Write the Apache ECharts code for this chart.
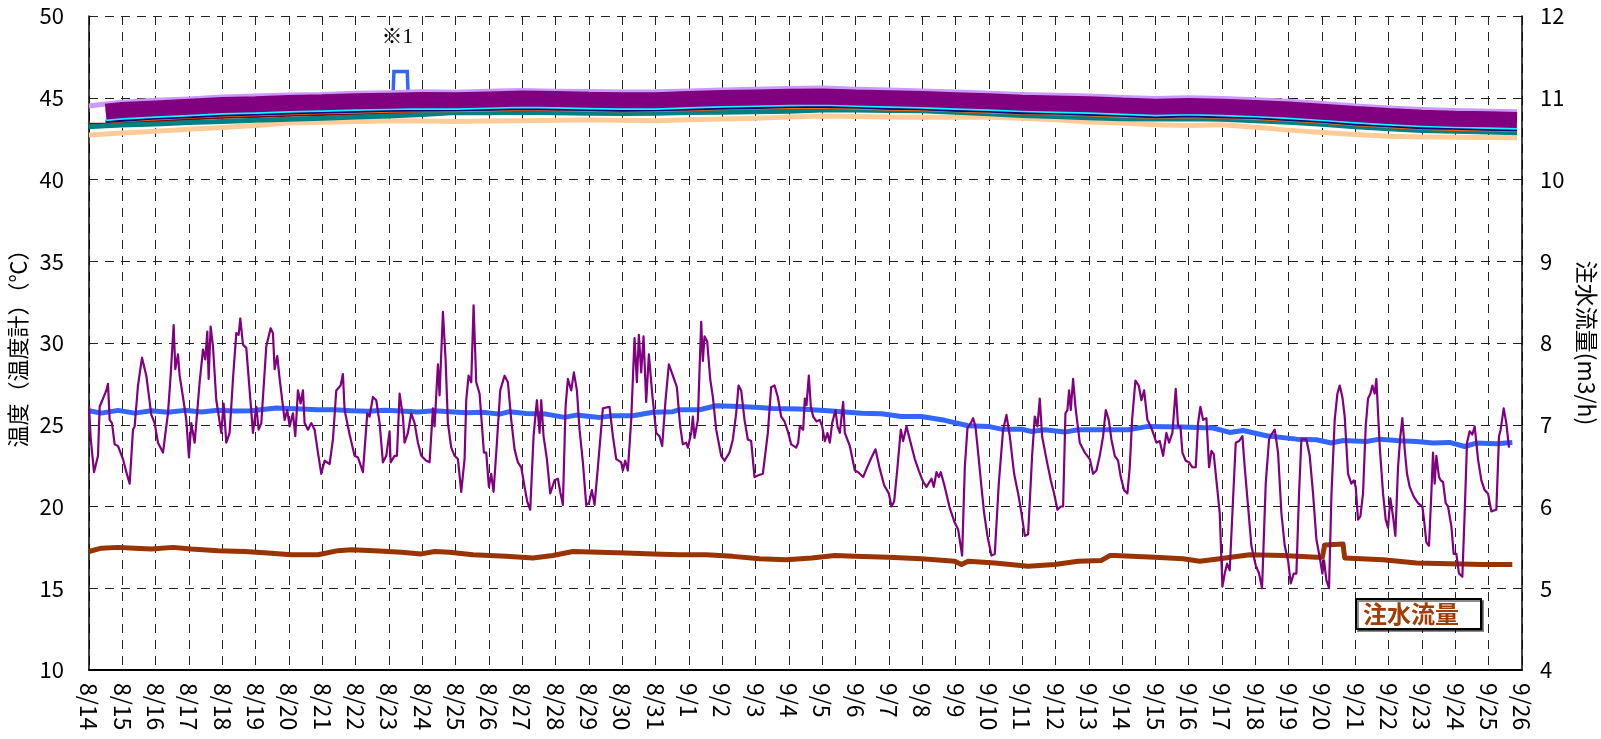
<!DOCTYPE html>
<html><head><meta charset="utf-8">
<script src="https://cdn.jsdelivr.net/npm/echarts@6/dist/echarts.min.js"></script>
<style>html,body{margin:0;padding:0;background:#fff}#c{width:1601px;height:739px}</style>
</head><body><div id="c"></div>
<script>
// ---- tick labels (x axis = days since 8/14) ----
const dateLabels = ['8/14','8/15','8/16','8/17','8/18','8/19','8/20','8/21','8/22','8/23','8/24','8/25','8/26','8/27','8/28','8/29','8/30','8/31',
  '9/1','9/2','9/3','9/4','9/5','9/6','9/7','9/8','9/9','9/10','9/11','9/12','9/13','9/14','9/15','9/16','9/17','9/18','9/19','9/20','9/21','9/22','9/23','9/24','9/25','9/26'];

// ---- upper thermometer bundle (day offsets shared) ----
const bundleDays = [0,0.5,1,2,3,4,5,6,7,8,9,10,11,12,13,14,15,16,17,18,19,20,21,22,23,24,25,26,27,28,29,30,31,32,33,34,35,36,37,38,39,40,41,42,42.85];
const purpleBand = [null,44.15,44.25,44.35,44.45,44.55,44.6,44.68,44.72,44.78,44.82,44.86,44.85,44.9,44.95,44.92,44.88,44.85,44.85,44.92,44.98,45.02,45.06,45.08,45.02,44.97,44.92,44.85,44.78,44.7,44.65,44.6,44.52,44.45,44.5,44.45,44.38,44.28,44.15,44.0,43.88,43.78,43.72,43.68,43.64];
const lavender = [44.5,44.62,44.72,44.84,44.93,45.04,45.1,45.17,45.2,45.28,45.3,45.36,45.33,45.4,45.45,45.4,45.38,45.35,45.36,45.42,45.48,45.52,45.56,45.6,45.52,45.47,45.42,45.35,45.27,45.2,45.15,45.1,45.02,44.95,45.0,44.95,44.88,44.78,44.65,44.5,44.38,44.28,44.22,44.18,44.14];
const cyan = [null,43.65,43.75,43.85,43.95,44.05,44.1,44.18,44.22,44.28,44.32,44.36,44.35,44.4,44.45,44.42,44.38,44.35,44.35,44.42,44.48,44.52,44.56,44.58,44.52,44.47,44.42,44.35,44.28,44.2,44.15,44.1,44.02,43.95,44.0,43.95,43.88,43.78,43.65,43.5,43.38,43.28,43.22,43.18,43.14];
const navy = [null,43.55,43.63,43.76,43.84,43.95,44.01,44.07,44.13,44.17,44.23,44.25,44.26,44.29,44.35,44.31,44.28,44.24,44.26,44.31,44.38,44.41,44.47,44.47,44.43,44.36,44.32,44.24,44.19,44.09,44.06,43.99,43.93,43.84,43.9,43.84,43.79,43.67,43.56,43.39,43.29,43.17,43.13,43.07,43.05];
const orange = [null,43.52,43.6,43.7,43.8,43.9,43.96,44.02,44.08,44.12,44.18,44.2,44.2,44.24,44.3,44.26,44.22,44.2,44.22,44.26,44.32,44.36,44.4,44.42,44.36,44.3,44.26,44.2,44.12,44.05,44.0,43.94,43.86,43.8,43.84,43.8,43.72,43.62,43.5,43.35,43.22,43.12,43.06,43.02,43.0];
const darkRed = [43.38,43.4,43.5,43.6,43.7,43.8,43.85,43.93,43.97,44.03,44.07,44.11,44.1,44.15,44.2,44.17,44.13,44.1,44.1,44.17,44.23,44.27,44.31,44.33,44.27,44.22,44.17,44.1,44.03,43.95,43.9,43.85,43.77,43.7,43.75,43.7,43.63,43.53,43.4,43.25,43.13,43.03,42.97,42.93,42.89];
const teal = [43.23,43.28,43.33,43.4,43.48,43.55,43.62,43.68,43.75,43.82,43.88,43.98,44.1,44.08,44.12,44.08,44.05,44.03,44.05,44.1,44.12,44.15,44.18,44.25,44.25,44.22,44.2,44.12,44.02,43.92,43.85,43.78,43.72,43.7,43.72,43.68,43.6,43.5,43.38,43.22,43.1,43.0,42.95,42.9,42.86];
const peach = [42.72,42.78,42.85,42.95,43.08,43.18,43.3,43.45,43.5,43.55,43.58,43.58,43.55,43.58,43.6,43.62,43.64,43.62,43.6,43.65,43.7,43.75,43.82,43.88,43.85,43.82,43.8,43.8,43.8,43.75,43.65,43.52,43.45,43.35,43.3,43.35,43.2,43.02,42.88,42.75,42.65,42.6,42.58,42.57,42.56];

// blue thermometer in the bundle with the ※1 spike
const spikeDays = [0.5,5,9.12,9.15,9.55,9.58,16,22,28,33,38,42.85];
const spikeTemp = [44.2,44.6,45.0,46.6,46.6,45.0,44.85,45.05,44.7,44.5,44.0,43.65];

// ---- lower blue temperature ----
const blueDays = [0,0.37,0.87,1.37,1.87,2.37,2.87,3.37,3.87,4.37,4.87,5.62,6.37,6.87,7.37,7.87,8.37,8.87,9.37,9.87,10.37,10.82,11.32,11.82,12.32,12.62,13.12,13.72,14.27,14.62,15.32,15.72,16.32,16.92,17.52,17.72,18.32,18.82,19.52,20.12,20.52,21.32,22.18,23.18,23.78,24.38,24.98,25.68,26.38,26.98,27.38,27.98,28.28,28.68,29.28,29.68,30.68,31.18,31.78,32.83,33.73,34.23,34.63,35.33,36.23,36.83,37.28,37.63,38.33,38.73,39.33,39.83,40.33,40.83,41.28,41.63,42.23,42.71];
const blueTemp = [25.86,25.71,25.88,25.71,25.86,25.76,25.88,25.78,25.88,25.84,25.86,26.02,25.96,25.92,25.92,25.86,25.82,25.88,25.84,25.78,25.86,25.8,25.73,25.76,25.65,25.8,25.69,25.65,25.45,25.59,25.45,25.55,25.55,25.76,25.8,25.92,25.92,26.16,26.12,26.06,26.0,25.96,25.86,25.71,25.67,25.51,25.51,25.27,24.94,24.9,24.73,24.73,24.59,24.69,24.55,24.69,24.69,24.69,24.9,24.86,24.8,24.53,24.65,24.33,24.12,24.08,23.88,24.04,23.98,24.12,24.02,23.98,23.88,23.92,23.67,23.88,23.84,23.92];

// ---- purple (fluctuating) temperature ----
const purplePts = [[0,26.2],[0.05,24.2],[0.15,22.1],[0.27,23.1],[0.32,26.1],[0.52,27.1],[0.57,27.5],[0.62,25.3],[0.69,25.1],[0.77,23.8],[0.87,23.7],[1.02,22.9],[1.12,22.1],[1.22,21.4],[1.32,24.7],[1.37,24.9],[1.47,27.4],[1.59,29.1],[1.72,28.0],[1.87,25.6],[1.97,25.1],[2.07,23.9],[2.22,23.3],[2.37,25.7],[2.45,28.0],[2.54,31.1],[2.59,28.4],[2.67,29.3],[2.72,28.0],[2.82,26.7],[2.92,25.3],[3.00,23.0],[3.07,25.1],[3.17,23.9],[3.32,27.6],[3.42,29.6],[3.49,29.0],[3.55,30.7],[3.59,27.8],[3.65,31.0],[3.72,29.8],[3.82,26.5],[3.97,24.5],[4.04,26.3],[4.12,23.9],[4.22,24.5],[4.32,27.8],[4.42,30.6],[4.49,30.5],[4.54,31.5],[4.62,29.9],[4.72,29.7],[4.82,27.1],[4.92,24.5],[5.02,26.1],[5.09,24.7],[5.17,25.1],[5.32,29.8],[5.45,30.9],[5.52,30.6],[5.57,28.4],[5.65,29.2],[5.72,27.8],[5.87,25.3],[5.95,25.9],[6.02,24.9],[6.12,25.7],[6.19,24.3],[6.27,27.1],[6.35,26.3],[6.42,27.1],[6.47,25.1],[6.57,24.7],[6.67,25.1],[6.77,24.7],[6.87,23.3],[6.97,22.0],[7.07,22.8],[7.22,22.6],[7.32,24.1],[7.42,27.1],[7.55,27.4],[7.62,28.1],[7.67,25.9],[7.82,24.4],[7.97,23.1],[8.07,23.0],[8.22,22.1],[8.35,25.7],[8.42,25.5],[8.52,26.7],[8.62,26.5],[8.72,25.1],[8.82,22.7],[8.92,23.1],[9.02,24.6],[9.05,22.7],[9.17,23.1],[9.24,23.1],[9.32,26.9],[9.42,25.5],[9.47,23.9],[9.57,24.5],[9.67,25.7],[9.77,25.1],[9.87,23.9],[9.97,23.1],[10.12,22.8],[10.22,22.7],[10.32,26.0],[10.37,24.9],[10.47,28.7],[10.52,26.8],[10.62,31.9],
[10.7,29.0],[10.77,25.1],[10.87,23.6],[10.97,23.1],[11.07,22.9],[11.17,20.9],[11.27,22.9],[11.32,26.5],[11.39,28.0],[11.47,27.6],[11.54,32.3],[11.62,27.6],[11.72,26.9],[11.80,24.7],[11.85,23.3],[11.92,23.3],[12.0,21.2],[12.07,22.0],[12.14,20.9],[12.24,23.9],[12.34,27.1],[12.47,28.0],[12.57,27.6],[12.67,25.3],[12.77,23.5],[12.87,22.7],[12.97,22.4],[13.07,21.2],[13.15,20.3],[13.24,19.8],[13.34,24.3],[13.44,26.5],[13.52,24.5],[13.57,26.5],[13.64,24.3],[13.74,22.9],[13.84,20.8],[13.97,21.6],[14.07,21.7],[14.14,20.9],[14.22,20.1],[14.30,26.1],[14.37,27.8],[14.47,27.1],[14.55,28.2],[14.64,27.1],[14.72,24.7],[14.82,22.7],[14.92,20.1],[15.00,20.2],[15.09,21.0],[15.17,20.1],[15.27,22.4],[15.42,26.0],[15.62,26.1],[15.72,24.3],[15.82,22.9],[15.97,22.7],[16.02,22.2],[16.09,22.8],[16.17,22.2],[16.27,25.3],[16.37,30.3],[16.44,27.6],[16.5,30.5],[16.57,28.2],[16.64,30.4],[16.72,26.4],[16.8,29.3],[16.9,26.9],[17.02,24.5],[17.12,24.3],[17.2,23.7],[17.3,26.5],[17.4,28.7],[17.52,28.0],[17.64,27.3],[17.74,24.9],[17.82,23.8],[17.92,23.9],[17.97,23.6],[18.07,24.5],[18.12,25.5],[18.17,24.2],[18.27,25.3],[18.37,31.3],[18.42,28.9],[18.47,30.4],[18.55,30.1],[18.64,27.8],[18.72,26.7],[18.82,24.7],[18.97,23.1],[19.07,22.8],[19.22,23.3],[19.32,24.1],[19.42,25.7],[19.49,27.4],[19.57,27.1],[19.67,25.3],[19.77,24.1],[19.87,24.0],[19.97,21.8],[20.07,21.9],[20.22,22.0],[20.37,24.5],[20.47,27.3],[20.57,27.4],[20.67,26.7],[20.77,25.5],[20.87,25.2],[20.97,24.6],[21.07,23.8],[21.22,23.6],
[21.28,23.9],[21.33,24.9],[21.43,24.7],[21.48,26.6],[21.53,26.2],[21.6,28.0],[21.66,26.1],[21.73,25.5],[21.83,25.2],[21.93,25.3],[22.0,24.9],[22.08,24.0],[22.16,24.5],[22.23,23.9],[22.3,25.1],[22.4,25.9],[22.46,24.9],[22.53,24.5],[22.63,26.4],[22.68,24.5],[22.83,23.7],[22.98,22.2],[23.08,22.1],[23.23,21.8],[23.33,22.3],[23.48,23.0],[23.6,23.5],[23.73,22.3],[23.86,21.3],[24.0,20.8],[24.08,20.0],[24.16,20.3],[24.26,22.4],[24.36,24.7],[24.43,24.0],[24.53,24.9],[24.63,24.1],[24.78,22.9],[24.9,22.2],[25.03,21.5],[25.13,21.2],[25.28,21.7],[25.35,21.2],[25.43,22.1],[25.5,21.8],[25.56,22.1],[25.68,21.2],[25.83,19.9],[25.98,19.0],[26.08,18.6],[26.2,17.0],[26.28,22.4],[26.36,24.8],[26.46,25.1],[26.53,25.4],[26.6,24.9],[26.68,23.3],[26.78,21.2],[26.86,19.6],[26.96,18.2],[27.08,17.0],[27.18,17.1],[27.3,21.4],[27.43,24.7],[27.53,25.6],[27.63,24.3],[27.76,22.0],[27.88,20.8],[27.98,19.6],[28.08,18.2],[28.18,18.3],[28.3,23.1],[28.38,25.5],[28.46,24.9],[28.53,26.6],[28.6,24.3],[28.73,22.9],[28.86,21.6],[28.96,20.8],[29.06,19.8],[29.16,20.0],[29.23,20.0],[29.3,25.7],[29.36,25.9],[29.41,27.1],[29.46,25.9],[29.53,27.8],[29.6,26.1],[29.73,23.9],[29.88,23.3],[30.03,22.9],[30.13,22.0],[30.23,22.2],[30.33,23.1],[30.43,24.3],[30.51,25.9],[30.6,25.3],[30.68,24.1],[30.78,23.1],[30.88,22.8],[30.96,21.8],[31.06,21.0],[31.16,20.8],[31.23,22.4],[31.3,25.3],[31.4,27.7],[31.5,27.4],[31.58,26.5],[31.66,27.1],[31.76,25.3],[31.86,24.9],
[31.93,24.5],[32.03,23.9],[32.13,24.0],[32.23,23.1],[32.33,24.5],[32.41,23.9],[32.51,24.5],[32.61,27.2],[32.68,24.9],[32.75,24.9],[32.81,23.3],[32.91,22.8],[33.01,22.7],[33.11,22.4],[33.21,22.4],[33.28,25.1],[33.35,26.1],[33.43,25.3],[33.53,25.4],[33.61,22.4],[33.68,23.4],[33.75,23.2],[33.83,21.6],[33.93,19.6],[34.01,15.1],[34.08,15.9],[34.15,16.5],[34.23,16.1],[34.31,19.6],[34.41,23.9],[34.51,24.0],[34.61,24.3],[34.68,22.4],[34.78,20.0],[34.88,17.6],[35.01,16.4],[35.11,15.9],[35.2,15.0],[35.31,21.4],[35.41,24.1],[35.48,24.4],[35.58,24.7],[35.68,23.3],[35.78,19.6],[35.88,17.6],[35.98,16.7],[36.06,15.3],[36.15,15.9],[36.23,15.9],[36.31,20.8],[36.38,24.1],[36.46,24.1],[36.53,24.1],[36.63,23.1],[36.73,20.8],[36.83,18.0],[36.93,16.9],[37.01,15.9],[37.06,16.7],[37.13,15.5],[37.21,15.0],[37.28,20.6],[37.38,25.3],[37.46,26.9],[37.53,27.4],[37.61,26.7],[37.68,25.5],[37.78,22.0],[37.88,21.4],[37.95,21.6],[38.01,21.2],[38.08,19.2],[38.15,19.4],[38.23,20.8],[38.31,24.9],[38.38,26.6],[38.45,26.9],[38.51,27.4],[38.58,26.9],[38.63,27.8],[38.73,23.7],[38.83,20.8],[38.91,19.2],[38.98,18.7],[39.05,20.5],[39.13,19.4],[39.2,18.2],[39.28,22.4],[39.35,24.3],[39.41,25.4],[39.48,23.5],[39.55,22.0],[39.63,21.2],[39.75,20.6],[39.88,20.2],[40.01,20.0],[40.06,19.2],[40.13,17.8],[40.21,17.6],[40.28,20.8],[40.33,23.3],[40.38,21.4],[40.43,23.1],[40.51,21.8],[40.56,21.6],[40.63,21.5],[40.71,20.2],[40.78,20.0],[40.83,20.0],[40.88,18.8],[40.95,17.1],[41.03,17.1],[41.11,15.9],[41.21,15.7],[41.28,19.6],[41.35,23.9],[41.43,24.6],[41.51,24.4],[41.58,24.9],[41.68,22.9],[41.78,21.6],[41.88,21.0],[41.98,20.8],[42.08,19.7],[42.23,19.8],[42.31,24.3],[42.36,24.7],[42.45,26.0],[42.53,25.1],[42.61,23.6]];

// ---- injection flow (right axis, m3/h) ----
const flowDays = [0,0.37,0.87,1.37,1.87,2.52,3.07,3.87,4.67,5.37,6.07,6.87,7.47,7.87,8.57,9.37,9.97,10.37,10.82,11.52,12.52,13.32,13.92,14.52,15.32,16.12,16.92,17.72,18.52,19.32,20.12,20.92,21.68,22.38,22.98,23.98,24.98,25.98,26.18,26.38,27.18,28.18,28.98,29.68,30.38,30.63,30.78,31.98,32.83,33.33,33.93,34.83,35.83,36.83,37.01,37.08,37.63,37.68,38.83,39.83,40.83,41.83,42.71];
const flowVals = [5.45,5.49,5.50,5.49,5.48,5.50,5.48,5.46,5.45,5.43,5.41,5.41,5.46,5.47,5.46,5.44,5.42,5.45,5.44,5.41,5.39,5.37,5.40,5.45,5.44,5.43,5.42,5.41,5.41,5.39,5.36,5.35,5.37,5.40,5.39,5.38,5.36,5.33,5.29,5.33,5.31,5.27,5.29,5.33,5.34,5.40,5.40,5.38,5.36,5.33,5.36,5.41,5.40,5.38,5.38,5.53,5.54,5.37,5.35,5.31,5.30,5.29,5.29];

const FONT = '"Noto Sans CJK JP", "Noto Sans", sans-serif';
function pairs(xs, ys) { return xs.map((x, i) => [x, ys[i]]); }
function lineS(name, data, color, width, extra) {
  return Object.assign({
    type: 'line', name: name, data: data, symbol: 'none', showSymbol: false,
    lineStyle: { color: color, width: width, cap: 'butt', join: 'round' },
    itemStyle: { color: color }, silent: true, animation: false
  }, extra || {});
}

const chart = echarts.init(document.getElementById('c'), null, { renderer: 'canvas' });
const gridDash = { color: '#222', width: 1, type: [9, 7] };
chart.setOption({
  animation: false,
  backgroundColor: '#fff',
  grid: { left: 89, right: 79, top: 16, bottom: 69, containLabel: false, outerBoundsMode: 'none' },
  legend: {
    data: ['注水流量'], left: 1356, top: 599, icon: 'none', itemWidth: 0, itemHeight: 0, itemGap: 0,
    selectedMode: false, padding: [3, 22, 3, 2], borderColor: '#000', borderWidth: 2, borderRadius: 0,
    backgroundColor: '#fff', shadowColor: 'rgba(0,0,0,0.45)', shadowOffsetX: 2, shadowOffsetY: 2, shadowBlur: 0,
    textStyle: { color: '#A33C05', fontSize: 24, fontWeight: 'bold', fontFamily: FONT }
  },
  xAxis: {
    type: 'value', min: 0, max: 43, interval: 1,
    axisLine: { show: true, onZero: false, lineStyle: { color: '#000', width: 2 } },
    axisTick: { show: false },
    splitLine: { show: true, lineStyle: gridDash },
    axisLabel: {
      rotate: -90, margin: 13, fontSize: 23, color: '#000', fontFamily: FONT,
      showMinLabel: true, showMaxLabel: true,
      formatter: v => dateLabels[Math.round(v)] || ''
    }
  },
  yAxis: [{
    type: 'value', min: 10, max: 50, interval: 5, position: 'left',
    name: '温度（温度計）（℃）', nameLocation: 'middle', nameGap: 59,
    nameTextStyle: { fontSize: 22, color: '#000', fontFamily: FONT },
    axisLine: { show: true, lineStyle: { color: '#000', width: 1.5 } },
    axisTick: { show: false },
    splitLine: { show: true, lineStyle: gridDash },
    axisLabel: { fontSize: 22, color: '#000', margin: 25, fontFamily: FONT }
  }, {
    type: 'value', min: 4, max: 12, interval: 1, position: 'right',
    name: '注水流量(m3/h)', nameLocation: 'middle', nameGap: 50, nameRotate: -90,
    nameTextStyle: { fontSize: 23, color: '#000', fontFamily: FONT },
    axisLine: { show: true, lineStyle: { color: '#000', width: 1.5 } },
    axisTick: { show: false },
    splitLine: { show: false },
    axisLabel: { fontSize: 22, color: '#000', margin: 18, fontFamily: FONT }
  }],
  series: [
    lineS('温度計P', pairs(bundleDays, peach), '#FFCC99', 5),
    lineS('温度計DR', pairs(bundleDays, darkRed), '#800000', 3),
    lineS('温度計T', pairs(bundleDays, teal), '#008080', 5),
    lineS('温度計O', pairs(bundleDays, orange), '#FF6600', 3),
    lineS('温度計N', pairs(bundleDays, navy), '#000080', 3),
    lineS('温度計C', pairs(bundleDays, cyan), '#00FFFF', 3),
    lineS('温度計B', pairs(spikeDays, spikeTemp), '#3366FF', 3.5, {
      lineStyle: { color: '#3366FF', width: 3.5, join: 'miter', cap: 'butt' },
      markPoint: {
        silent: true, animation: false, symbol: 'circle', symbolSize: 1,
        itemStyle: { color: 'rgba(0,0,0,0)' },
        label: { show: true, position: 'inside', formatter: '※1', color: '#000', fontSize: 21,
                 fontFamily: '"Liberation Serif", "DejaVu Serif", "Noto Sans CJK JP", serif' },
        data: [{ coord: [9.25, 48.7] }]
      }
    }),
    lineS('温度計L', pairs(bundleDays, lavender), '#CC99FF', 5),
    lineS('温度計M', pairs(bundleDays, purpleBand), '#800080', 16, { lineStyle: { color: '#800080', width: 16, cap: 'butt', join: 'bevel' } }),
    lineS('注水流量', pairs(flowDays, flowVals), '#993300', 5, { yAxisIndex: 1 }),
    lineS('温度', pairs(blueDays, blueTemp), '#3366FF', 5),
    lineS('外気温', purplePts, '#800080', 2.2)
  ]
});
</script>
</body></html>
